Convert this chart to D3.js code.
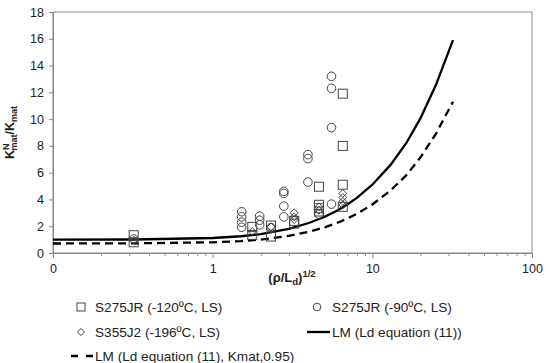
<!DOCTYPE html>
<html lang="en">
<head>
<meta charset="utf-8">
<title>KNmat / Kmat</title>
<script src="https://d3js.org/d3.v7.min.js"></script>
<style>
  body { margin: 0; background: #fff; }
  text { font-family: "Liberation Sans", Arial, sans-serif; fill: #222; }
</style>
</head>
<body>
<script>
// x = (rho/Ld)^1/2, y = KNmat/Kmat
var sq120 = [[0.32,1.33],[0.32,0.8],[1.77,1.95],[1.77,1.35],[2.32,2.05],[2.32,1.23],
  [3.24,2.4],[3.24,2.2],[4.63,4.95],[4.63,3.6],[4.63,3.35],[4.63,3.1],
  [6.53,11.9],[6.53,8.0],[6.53,5.1],[6.53,3.45]];
var circ90 = [[0.32,1.05],[1.52,3.08],[1.52,2.7],[1.52,2.3],[1.52,1.92],
  [1.97,2.75],[1.97,2.45],[1.97,2.1],[2.32,1.9],[2.79,4.6],[2.79,4.45],[2.79,3.5],[2.79,2.7],
  [3.95,7.35],[3.95,7.05],[3.95,5.3],[4.63,2.9],[5.55,13.2],[5.55,12.3],[5.55,9.36],[5.55,3.65]];
var dia196 = [[0.32,0.95],[1.77,1.6],[2.32,1.95],[3.24,3.0],[3.24,2.7],[3.24,2.5],
  [4.63,3.45],[4.63,3.2],[6.53,4.45],[6.53,4.15],[6.53,3.85],[6.53,3.6]];

var lmX    = [0.1, 0.32, 1, 1.5, 2, 3, 4, 5, 6, 7, 8, 10, 13, 16.3, 20, 25, 32];
var lmY    = [1.0, 1.01, 1.12, 1.25, 1.41, 1.80, 2.24, 2.69, 3.16, 3.64, 4.12, 5.10, 6.58, 8.2, 10.05, 12.54, 15.9];
var lm95Y  = [0.71, 0.72, 0.80, 0.89, 1.0, 1.28, 1.59, 1.91, 2.24, 2.58, 2.93, 3.62, 4.67, 5.8, 7.13, 8.90, 11.3];

var yTicks = [0,2,4,6,8,10,12,14,16,18];
var xTicks = [0.1, 1, 10, 100];
var xTickLabels = ["0", "1", "10", "100"];

var w = 550, h = 363;
var mLeft = 53, mRight = 532, mTop = 12, mBottom = 253;

var svg = d3.select("body").append("svg").attr("width", w).attr("height", h);

var x = d3.scaleLog().domain([0.1, 100]).range([mLeft, mRight]);
var y = d3.scaleLinear().domain([0, 18]).range([mBottom, mTop]);

// frame
svg.append("rect").attr("x", mLeft).attr("y", mTop)
  .attr("width", mRight - mLeft).attr("height", mBottom - mTop)
  .attr("fill", "none").attr("stroke", "#888").attr("stroke-width", 1);

// y axis
var yAxis = svg.append("g").attr("transform", "translate(" + mLeft + ",0)")
  .call(d3.axisLeft(y).tickValues(yTicks).tickSize(4).tickPadding(5));
yAxis.select(".domain").attr("stroke", "#888");
yAxis.selectAll("line").attr("stroke", "#888");
yAxis.selectAll("text").style("font-size", "12.5px");

// x axis with minor ticks
var minor = [];
for (var d = 0.1; d < 99; d *= 10) {
  for (var k = 2; k <= 9; k++) minor.push(d * k);
}
var xMinor = svg.append("g").attr("transform", "translate(0," + mBottom + ")")
  .call(d3.axisBottom(x).tickValues(minor).tickSize(3).tickFormat(""));
xMinor.select(".domain").remove();
xMinor.selectAll("line").attr("stroke", "#888");

var xAxis = svg.append("g").attr("transform", "translate(0," + mBottom + ")")
  .call(d3.axisBottom(x).tickValues(xTicks).tickSize(5).tickPadding(6)
    .tickFormat(function(d, i){ return xTickLabels[i]; }));
xAxis.select(".domain").attr("stroke", "#888");
xAxis.selectAll("line").attr("stroke", "#888");
xAxis.selectAll("text").style("font-size", "12.5px");

// axis titles
var xt = svg.append("text").attr("x", 292).attr("y", 282)
  .attr("text-anchor", "middle").style("font-size", "13px").style("font-weight", "bold");
xt.append("tspan").text("(ρ/L");
xt.append("tspan").attr("dy", 3).style("font-size", "9.5px").text("d");
xt.append("tspan").attr("dy", -3).text(")");
xt.append("tspan").attr("dy", -5).style("font-size", "9.5px").text("1/2");

var yt = svg.append("text")
  .attr("transform", "translate(14," + ((mTop + mBottom) / 2) + ") rotate(-90)")
  .attr("text-anchor", "middle").style("font-size", "12.5px").style("font-weight", "bold");
yt.append("tspan").text("K");
yt.append("tspan").attr("dy", -5).style("font-size", "9px").text("N");
yt.append("tspan").attr("dx", -7).attr("dy", 8).style("font-size", "9px").text("mat");
yt.append("tspan").attr("dy", -3).text("/K");
yt.append("tspan").attr("dy", 3).style("font-size", "9px").text("mat");

// curves
var line = d3.line().x(function(d){ return x(d[0]); }).y(function(d){ return y(d[1]); });
var lmData = lmX.map(function(v, i){ return [v, lmY[i]]; });
var lm95Data = lmX.map(function(v, i){ return [v, lm95Y[i]]; });

svg.append("path").datum(lm95Data).attr("d", line)
  .attr("fill", "none").attr("stroke", "#000").attr("stroke-width", 2.3)
  .attr("stroke-dasharray", "8,5");
svg.append("path").datum(lmData).attr("d", line)
  .attr("fill", "none").attr("stroke", "#000").attr("stroke-width", 2.3);

// markers
var mk = "#444";
svg.selectAll(".sq").data(sq120).enter().append("rect").attr("class", "sq")
  .attr("x", function(d){ return x(d[0]) - 4.5; })
  .attr("y", function(d){ return y(d[1]) - 4.5; })
  .attr("width", 9).attr("height", 9)
  .attr("fill", "none").attr("stroke", mk).attr("stroke-width", 1);

svg.selectAll(".ci").data(circ90).enter().append("circle").attr("class", "ci")
  .attr("cx", function(d){ return x(d[0]); })
  .attr("cy", function(d){ return y(d[1]); })
  .attr("r", 4.3)
  .attr("fill", "none").attr("stroke", mk).attr("stroke-width", 1);

var diamond = d3.symbol().type(d3.symbolDiamond2).size(40);
svg.selectAll(".di").data(dia196).enter().append("path").attr("class", "di")
  .attr("transform", function(d){ return "translate(" + x(d[0]) + "," + y(d[1]) + ")"; })
  .attr("d", diamond)
  .attr("fill", "none").attr("stroke", mk).attr("stroke-width", 1);

// legend
var lg = svg.append("g").style("font-size", "13.6px");
lg.append("rect").attr("x", 77).attr("y", 303).attr("width", 8).attr("height", 8)
  .attr("fill", "none").attr("stroke", mk);
lg.append("text").attr("x", 95).attr("y", 312).text("S275JR (-120ºC, LS)");

lg.append("circle").attr("cx", 317).attr("cy", 307).attr("r", 3.8)
  .attr("fill", "none").attr("stroke", mk);
lg.append("text").attr("x", 332).attr("y", 312).text("S275JR (-90ºC, LS)");

lg.append("path").attr("transform", "translate(81,332)")
  .attr("d", d3.symbol().type(d3.symbolDiamond2).size(32))
  .attr("fill", "none").attr("stroke", mk);
lg.append("text").attr("x", 95).attr("y", 337).text("S355J2 (-196ºC, LS)");

lg.append("line").attr("x1", 307).attr("x2", 330).attr("y1", 332).attr("y2", 332)
  .attr("stroke", "#000").attr("stroke-width", 2.3);
lg.append("text").attr("x", 332).attr("y", 337).text("LM (Ld equation (11))");

lg.append("line").attr("x1", 71).attr("x2", 93).attr("y1", 356).attr("y2", 356)
  .attr("stroke", "#000").attr("stroke-width", 2.3).attr("stroke-dasharray", "7,8");
lg.append("text").attr("x", 95).attr("y", 361).text("LM (Ld equation (11), Kmat,0.95)");
</script>
</body>
</html>
